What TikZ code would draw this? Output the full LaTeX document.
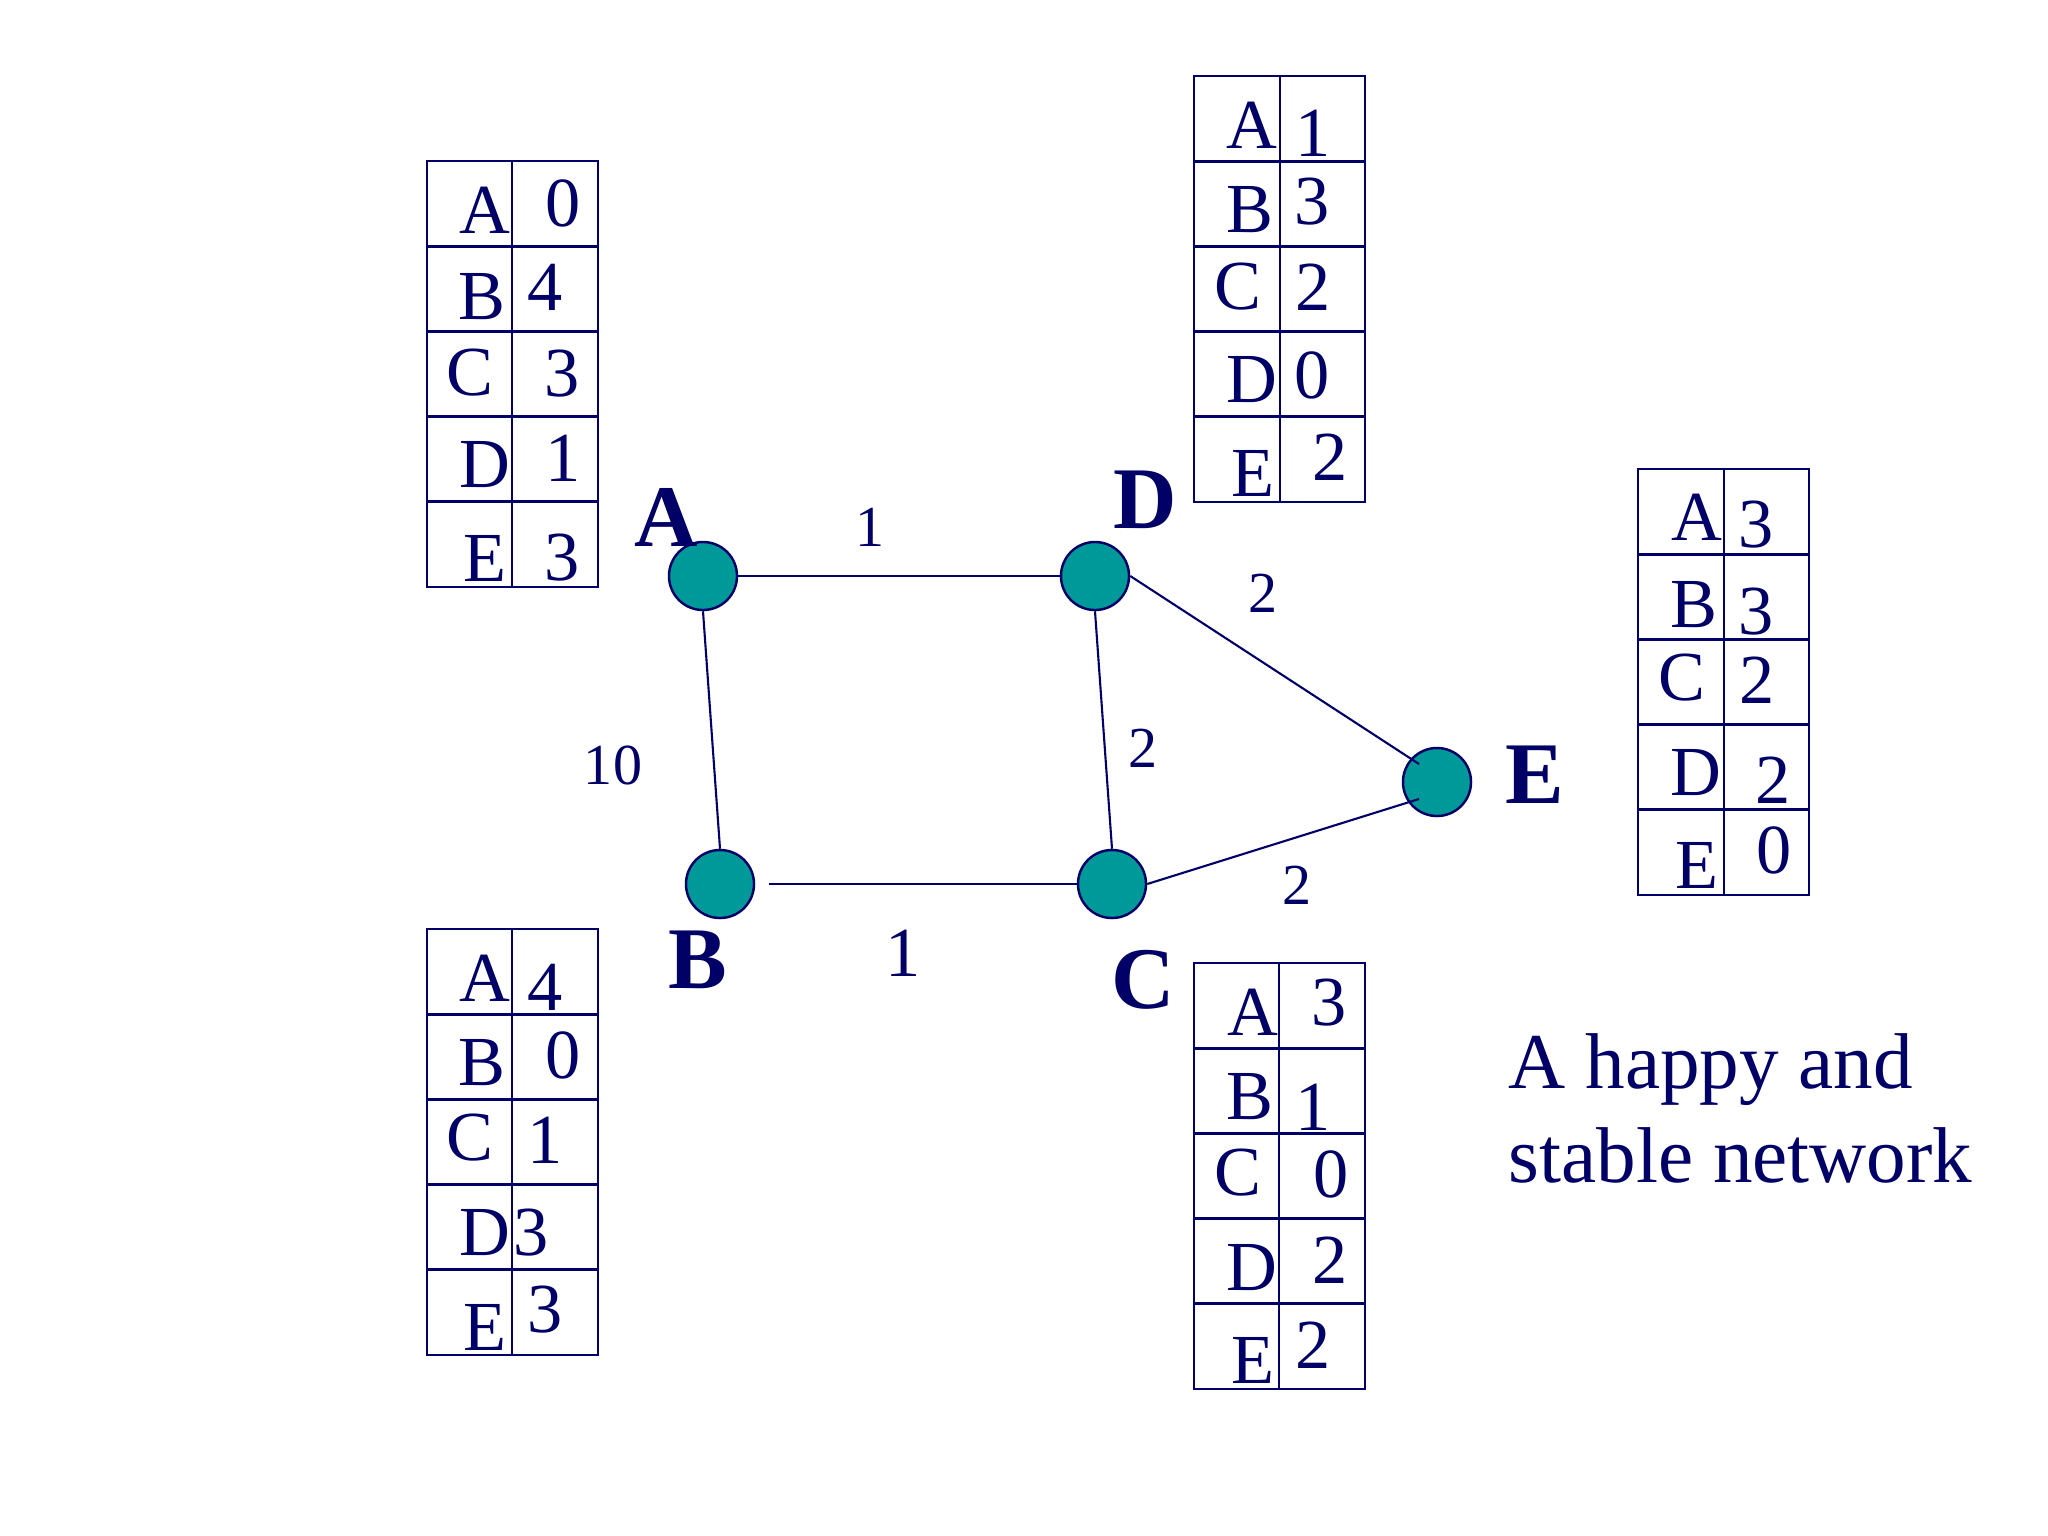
\documentclass[tikz,border=0pt]{standalone}
\usepackage{fontspec}
\setmainfont{Liberation Serif}
\definecolor{navy}{RGB}{0,0,102}
\definecolor{tealfill}{RGB}{0,153,153}
\tikzset{
  router/.style={circle, fill=tealfill, draw=navy, line width=0.7pt, minimum size=0.68cm, inner sep=0pt},
  link/.style={draw=navy, line width=0.6pt},
  tabline/.style={draw=navy, line width=0.75pt},
  cell/.style={text=navy, font=\fontsize{20}{24}\selectfont, inner sep=0pt},
  rlabel/.style={text=navy, font=\fontsize{25}{30}\selectfont\bfseries, inner sep=0pt},
  wlabel/.style={text=navy, font=\fontsize{16.5}{20}\selectfont, inner sep=0pt},
  bigw/.style={text=navy, font=\fontsize{20}{24}\selectfont, inner sep=0pt},
}
\newcommand\rtable[3]{%
  \draw[tabline] (#1,#2) rectangle ++(171,426);
  \draw[tabline] (#1+#3,#2) -- ++(0,426);
  \foreach \k in {1,...,4} \draw[tabline] (#1,#2+85.2*\k) -- ++(171,0);
}
\begin{document}
\begin{tikzpicture}[x=0.01cm,y=-0.01cm]
\useasboundingbox (0,0) rectangle (2048,1536);

% routing tables
\rtable{427}{161}{85}
\rtable{427}{929}{85}
\rtable{1194}{76}{86}
\rtable{1194}{963}{85}
\rtable{1638}{469}{86}

% table of A
\node[cell] (tA-A) at (485,210) {A}; \node[cell] (tA-a) at (563,203) {0};
\node[cell] (tA-B) at (482,297) {B}; \node[cell] (tA-b) at (545,287) {4};
\node[cell] (tA-C) at (470,373) {C}; \node[cell] (tA-c) at (562,374) {3};
\node[cell] (tA-D) at (485,465) {D}; \node[cell] (tA-d) at (563,458) {1};
\node[cell] (tA-E) at (485,558) {E}; \node[cell] (tA-e) at (562,558) {3};

% table of B
\node[cell] (tB-A) at (485,978) {A}; \node[cell] (tB-a) at (545,987) {4};
\node[cell] (tB-B) at (482,1063) {B}; \node[cell] (tB-b) at (563,1055) {0};
\node[cell] (tB-C) at (470,1138) {C}; \node[cell] (tB-c) at (545,1140) {1};
\node[cell] (tB-D) at (485,1233) {D}; \node[cell] (tB-d) at (531,1233) {3};
\node[cell] (tB-E) at (485,1327) {E}; \node[cell] (tB-e) at (545,1310) {3};

% table of D
\node[cell] (tD-A) at (1252,125) {A}; \node[cell] (tD-a) at (1313,133) {1};
\node[cell] (tD-B) at (1250,210) {B}; \node[cell] (tD-b) at (1312,202) {3};
\node[cell] (tD-C) at (1238,287) {C}; \node[cell] (tD-c) at (1313,287) {2};
\node[cell] (tD-D) at (1252,380) {D}; \node[cell] (tD-d) at (1312,375) {0};
\node[cell] (tD-E) at (1253,473) {E}; \node[cell] (tD-e) at (1330,457) {2};

% table of C
\node[cell] (tC-A) at (1253,1012) {A}; \node[cell] (tC-a) at (1329,1003) {3};
\node[cell] (tC-B) at (1250,1097) {B}; \node[cell] (tC-b) at (1313,1107) {1};
\node[cell] (tC-C) at (1238,1173) {C}; \node[cell] (tC-c) at (1331,1174) {0};
\node[cell] (tC-D) at (1252,1268) {D}; \node[cell] (tC-d) at (1330,1260) {2};
\node[cell] (tC-E) at (1253,1360) {E}; \node[cell] (tC-e) at (1313,1345) {2};

% table of E
\node[cell] (tE-A) at (1697,517) {A}; \node[cell] (tE-a) at (1756,525) {3};
\node[cell] (tE-B) at (1694,605) {B}; \node[cell] (tE-b) at (1756,612) {3};
\node[cell] (tE-C) at (1682,678) {C}; \node[cell] (tE-c) at (1757,680) {2};
\node[cell] (tE-D) at (1696,773) {D}; \node[cell] (tE-d) at (1773,780) {2};
\node[cell] (tE-E) at (1697,865) {E}; \node[cell] (tE-e) at (1774,850) {0};

% routers
\node[router] (A) at (703,576) {};
\node[router] (D) at (1095,576) {};
\node[router] (B) at (720,884) {};
\node[router] (C) at (1112,884) {};
\node[router] (E) at (1437,782) {};
\coordinate (eD) at (1419,764);
\coordinate (eC) at (1419,799);

% links
\draw[link] (A) -- (D);
\draw[link] (A.south) -- (B.north);
\draw[link] (D.south) -- (C.north);
\draw[link, shorten <=0.14cm] (B) -- (C);
\draw[link] (D.east) -- (eD);
\draw[link] (C.east) -- (eC);

% router labels
\node[rlabel] (lA) at (666,517) {A};
\node[rlabel] (lD) at (1145,500) {D};
\node[rlabel] (lB) at (698,960) {B};
\node[rlabel] (lC) at (1143,980) {C};
\node[rlabel] (lE) at (1535,775) {E};

% link weights
\node[wlabel] (wAD) at (870,527) {1};
\node[wlabel] (wAB) at (613,765) {10};
\node[wlabel] (wDC) at (1143,748) {2};
\node[wlabel] (wDE) at (1263,593) {2};
\node[wlabel] (wCE) at (1297,885) {2};
\node[bigw] (wBC) at (903,953) {1};

% caption
\node[anchor=base west, align=left, text=navy, inner sep=0pt,
      font=\fontsize{22.5}{26.7}\selectfont] (caption) at (1508,1182)
      {A happy and\\stable network};
\end{tikzpicture}
\end{document}
